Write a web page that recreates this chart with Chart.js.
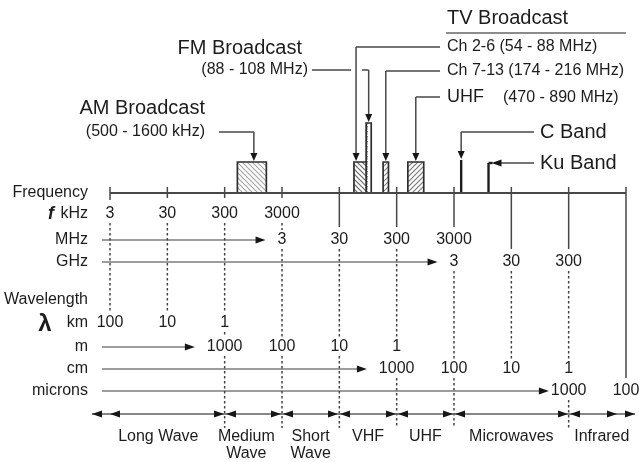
<!DOCTYPE html>
<html>
<head>
<meta charset="utf-8">
<script src="https://cdn.jsdelivr.net/npm/chart.js@4.4.1/dist/chart.umd.min.js"></script>
<style>
html, body { margin: 0; padding: 0; background: #fff; }
#wrap { width: 639px; height: 462px; position: relative; }
</style>
</head>
<body>
<div id="wrap"><canvas id="spectrum"></canvas></div>
<script>
// decade marks along the frequency axis (Hz)
const decadeHz = [3e3, 3e4, 3e5, 3e6, 3e7, 3e8, 3e9, 3e10, 3e11, 3e12];

// tick label rows, each starts at a decade index
const kHzLabels = ['3', '30', '300', '3000'];
const MHzLabels = ['3', '30', '300', '3000'];
const GHzLabels = ['3', '30', '300'];
const kmLabels = ['100', '10', '1'];
const mLabels = ['1000', '100', '10', '1'];
const cmLabels = ['1000', '100', '10', '1'];
const micronLabels = ['1000', '100'];
const rowStart = { kHz: 0, MHz: 3, GHz: 6, km: 0, m: 2, cm: 5, microns: 8 };

// broadcast allocations
const broadcastNames = ['AM', 'TV Ch 2-6', 'FM', 'TV Ch 7-13', 'TV UHF'];
const broadcastLoHz = [500e3, 54e6, 88e6, 174e6, 470e6];
const broadcastHiHz = [1600e3, 88e6, 108e6, 216e6, 890e6];
const broadcastHeight = [31, 31, 70, 31, 31];

// satellite bands
const satNames = ['C Band', 'Ku Band'];
const satHz = [4e9, 12e9];
const satHeight = [33, 30];

// named regions along the bottom
const regionNames = [['Long Wave'], ['Medium', 'Wave'], ['Short', 'Wave'], ['VHF'], ['UHF'], ['Microwaves'], ['Infrared']];
const regionEdgesHz = [3e3, 3e5, 3e6, 3e7, 3e8, 3e9, 3e11, 3e12];

const FONT = '"Liberation Sans", Arial, sans-serif';
const INK = '#1c1c1c';
const LINE = '#474747';

const canvas = document.getElementById('spectrum');
const ctx0 = canvas.getContext('2d');

// hatch fills for the boxes
function hatch(kind, color) {
    const c = document.createElement('canvas');
    c.width = 5; c.height = 5;
    const g = c.getContext('2d');
    g.fillStyle = '#fff';
    g.fillRect(0, 0, 5, 5);
    g.strokeStyle = color;
    g.fillStyle = color;
    g.lineWidth = 1.2;
    g.beginPath();
    if (kind === 'back') {
        g.moveTo(-1, -1); g.lineTo(6, 6);
        g.moveTo(-1, 4); g.lineTo(1, 6);
        g.moveTo(4, -1); g.lineTo(6, 1);
        g.stroke();
    } else if (kind === 'fwd') {
        g.moveTo(-1, 6); g.lineTo(6, -1);
        g.moveTo(-1, 1); g.lineTo(1, -1);
        g.moveTo(4, 6); g.lineTo(6, 4);
        g.stroke();
    } else {
        g.fillRect(2, 1, 1, 1.5);
        g.fillRect(2, 3.5, 1, 1);
    }
    return ctx0.createPattern(c, 'repeat');
}

const fills = [hatch('back', '#a8a8a8'), hatch('back', '#6a6a6a'), hatch('dots', '#777'), hatch('fwd', '#888'), hatch('fwd', '#7a7a7a')];

const datasets = [];
broadcastNames.forEach((name, i) => {
    const lo = broadcastLoHz[i], hi = broadcastHiHz[i], h = broadcastHeight[i];
    datasets.push({
        label: name,
        data: [{ x: lo, y: 0 }, { x: lo, y: h }, { x: hi, y: h }, { x: hi, y: 0 }],
        showLine: true, fill: 'origin', backgroundColor: fills[i],
        borderColor: '#2e2e2e', borderWidth: 1.7, pointRadius: 0, tension: 0
    });
});
satNames.forEach((name, i) => {
    datasets.push({
        label: name,
        data: [{ x: satHz[i], y: 0 }, { x: satHz[i], y: satHeight[i] }],
        showLine: true, fill: false, borderColor: '#1e1e1e', borderWidth: 2.4, pointRadius: 0
    });
});

function line(ctx, x1, y1, x2, y2) {
    ctx.beginPath();
    ctx.moveTo(x1, y1);
    ctx.lineTo(x2, y2);
    ctx.stroke();
}

// filled arrowhead, tip at (x, y), pointing along dir: 'l','r','u','d'
function head(ctx, x, y, dir, len = 8, w = 3.5) {
    ctx.beginPath();
    ctx.moveTo(x, y);
    if (dir === 'd') { ctx.lineTo(x - w, y - len); ctx.lineTo(x + w, y - len); }
    if (dir === 'u') { ctx.lineTo(x - w, y + len); ctx.lineTo(x + w, y + len); }
    if (dir === 'r') { ctx.lineTo(x - len, y - w); ctx.lineTo(x - len, y + w); }
    if (dir === 'l') { ctx.lineTo(x + len, y - w); ctx.lineTo(x + len, y + w); }
    ctx.closePath();
    ctx.fillStyle = '#161616';
    ctx.fill();
}

function text(ctx, s, x, y, size, align, extra) {
    ctx.font = (extra || '') + size + 'px ' + FONT;
    ctx.textAlign = align || 'center';
    ctx.textBaseline = 'middle';
    ctx.fillStyle = INK;
    ctx.fillText(s, x, y);
}

const spectrumPlugin = {
    id: 'spectrum',
    afterDatasetsDraw(chart) {
        const ctx = chart.ctx;
        const xs = chart.scales.x, ys = chart.scales.y;
        const X = v => xs.getPixelForValue(v);
        const Y = v => ys.getPixelForValue(v);
        const axisY = Y(0);
        ctx.save();

        // ---- label rows ----
        const rows = [
            { name: 'kHz', labels: kHzLabels, y: 214 },
            { name: 'MHz', labels: MHzLabels, y: 240, gap: 12 },
            { name: 'GHz', labels: GHzLabels, y: 262, gap: 12 },
            { name: 'km', labels: kmLabels, y: 323 },
            { name: 'm', labels: mLabels, y: 347, gap: 12 },
            { name: 'cm', labels: cmLabels, y: 369, gap: 12 },
            { name: 'microns', labels: micronLabels, y: 391, gap: 2 }
        ];
        const colLabels = decadeHz.map(() => []);
        rows.forEach(r => {
            const s = rowStart[r.name];
            text(ctx, r.name, 88, r.y, 16, 'right');
            r.labels.forEach((lab, k) => {
                const x = X(decadeHz[s + k]);
                text(ctx, lab, x, r.y, 16, 'center');
                colLabels[s + k].push(r.y);
            });
            if (s > 0) {
                ctx.font = '16px ' + FONT;
                const w = ctx.measureText(r.labels[0]).width;
                const tip = X(decadeHz[s]) - w / 2 - r.gap;
                ctx.strokeStyle = '#7c7c7c';
                ctx.lineWidth = 1.6;
                line(ctx, 102, r.y, tip - 6, r.y);
                head(ctx, tip, r.y, 'r', 10, 3.5);
            }
        });
        text(ctx, 'Frequency', 88, axisY, 16, 'right');
        text(ctx, 'Wavelength', 88, 300, 16, 'right');
        text(ctx, 'f', 51, 214, 18, 'center', 'italic bold ');
        text(ctx, '\u03bb', 45, 324, 24, 'center', 'bold ');

        // ---- frequency axis ----
        ctx.strokeStyle = LINE;
        ctx.lineWidth = 1.8;
        line(ctx, X(decadeHz[0]), axisY, X(decadeHz[9]), axisY);
        const innerEdges = regionEdgesHz.slice(1, -1).map(v => Math.round(X(v)));
        decadeHz.forEach((hz, i) => {
            const x = X(hz);
            const labs = colLabels[i].slice().sort((a, b) => a - b);
            ctx.strokeStyle = LINE;
            ctx.lineWidth = 1.5;
            if (i < 4) {
                line(ctx, x, axisY - 6, x, axisY + (i === 0 ? 7 : 5));
            } else {
                line(ctx, x, axisY - 6, x, labs[0] - 13);
            }
            // dotted drop lines between labels
            ctx.setLineDash([2.5, 2.5]);
            ctx.strokeStyle = '#444';
            ctx.lineWidth = 1.5;
            for (let k = 0; k < labs.length - 1; k++) {
                const a = labs[k] + 9, b = labs[k + 1] - 10;
                if (b - a > 3) line(ctx, x, a, x, b);
            }
            if (innerEdges.includes(Math.round(x))) {
                line(ctx, x, labs[labs.length - 1] + 9, x, 428);
            }
            ctx.setLineDash([]);
        });

        // ---- region arrows ----
        const bandY = 414;
        const left = X(regionEdgesHz[0]), right = X(regionEdgesHz[regionEdgesHz.length - 1]);
        ctx.strokeStyle = '#5e5e5e';
        ctx.lineWidth = 1.4;
        line(ctx, left - 18, bandY, right + 9, bandY);
        head(ctx, left - 18, bandY, 'l', 10, 3.5);
        head(ctx, left, bandY, 'l', 10, 3.5);
        head(ctx, right - 9, bandY, 'r', 10, 3.5);
        head(ctx, right + 9, bandY, 'r', 10, 3.5);
        innerEdges.forEach(x => {
            head(ctx, x - 1, bandY, 'r', 10, 3.5);
            head(ctx, x + 1, bandY, 'l', 10, 3.5);
        });
        regionNames.forEach((lines, i) => {
            let a = X(regionEdgesHz[i]), b = X(regionEdgesHz[i + 1]);
            if (i === 0) a -= 18;
            if (i === regionNames.length - 1) b += 9;
            const cx = (a + b) / 2 - (i === 1 ? 7 : 0);
            lines.forEach((s, k) => text(ctx, s, cx, 437 + k * 17, 16, 'center'));
        });

        // ---- callouts ----
        const barTop = i => Y(broadcastHeight[i]);
        const barMid = i => X(Math.sqrt(broadcastLoHz[i] * broadcastHiHz[i]));
        ctx.strokeStyle = LINE;
        ctx.lineWidth = 1.5;

        // AM
        text(ctx, 'AM Broadcast', 205, 108, 20, 'right');
        text(ctx, '(500 - 1600 kHz)', 205, 132, 16, 'right');
        let x = barMid(0) + 2;
        line(ctx, 219, 132, x, 132);
        line(ctx, x, 132, x, barTop(0) - 8);
        head(ctx, x, barTop(0) - 1, 'd');

        // FM
        text(ctx, 'FM Broadcast', 302, 48, 20, 'right');
        text(ctx, '(88 - 108 MHz)', 308, 70, 16, 'right');
        const ch26x = barMid(1) - 4;
        x = barMid(2);
        line(ctx, 312, 70, ch26x - 5, 70);
        line(ctx, ch26x + 6, 70, x, 70);
        line(ctx, x, 70, x, barTop(2) - 8);
        head(ctx, x, barTop(2) - 1, 'd');

        // TV
        text(ctx, 'TV Broadcast', 447, 18, 20, 'left');
        ctx.strokeStyle = '#666';
        ctx.lineWidth = 1.3;
        line(ctx, 446, 33, 626, 33);
        ctx.strokeStyle = LINE;
        ctx.lineWidth = 1.5;
        text(ctx, 'Ch 2-6 (54 - 88 MHz)', 447, 47, 16, 'left');
        line(ctx, 440, 47, ch26x, 47);
        line(ctx, ch26x, 47, ch26x, barTop(1) - 8);
        head(ctx, ch26x, barTop(1) - 1, 'd');

        text(ctx, 'Ch 7-13 (174 - 216 MHz)', 447, 71, 16, 'left');
        x = barMid(3);
        line(ctx, 440, 71, x, 71);
        line(ctx, x, 71, x, barTop(3) - 8);
        head(ctx, x, barTop(3) - 1, 'd');

        text(ctx, 'UHF', 447, 97, 18, 'left');
        text(ctx, '(470 - 890 MHz)', 503, 98, 16, 'left');
        x = barMid(4);
        line(ctx, 440, 97, x, 97);
        line(ctx, x, 97, x, barTop(4) - 8);
        head(ctx, x, barTop(4) - 1, 'd');

        // satellite
        text(ctx, 'C Band', 540, 132, 20, 'left');
        x = X(satHz[0]);
        line(ctx, 534, 132, x, 132);
        line(ctx, x, 132, x, Y(satHeight[0]) - 8);
        head(ctx, x, Y(satHeight[0]) - 1, 'd');

        text(ctx, 'Ku Band', 540, 163, 20, 'left');
        x = X(satHz[1]);
        const ky = Y(satHeight[1]);
        line(ctx, 534, ky, x + 10, ky);
        ctx.strokeStyle = '#1e1e1e';
        ctx.lineWidth = 2.4;
        line(ctx, x, ky, x + 4, ky);
        head(ctx, x + 3, ky, 'l', 10, 3.5);

        ctx.restore();
    }
};

new Chart(canvas, {
    type: 'scatter',
    data: { datasets },
    options: {
        responsive: true,
        maintainAspectRatio: false,
        animation: false,
        layout: { padding: { left: 110, right: 13, top: 0, bottom: 0 } },
        plugins: { legend: { display: false }, tooltip: { enabled: false } },
        scales: {
            x: { type: 'logarithmic', min: 3e3, max: 3e12, display: false },
            y: { type: 'linear', min: -269, max: 193, display: false }
        }
    },
    plugins: [spectrumPlugin]
});
</script>
</body>
</html>
